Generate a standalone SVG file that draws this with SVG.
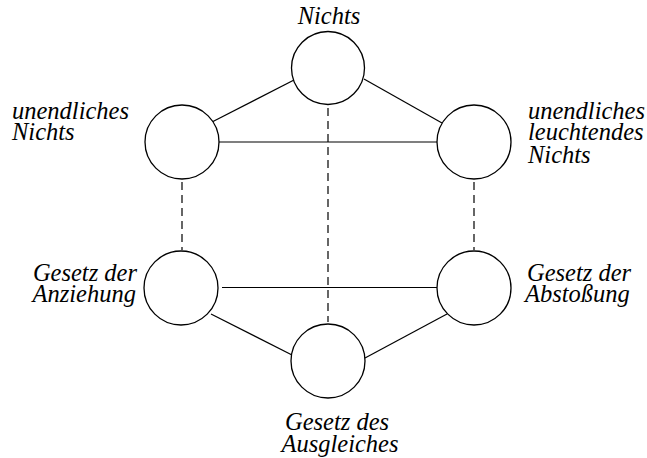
<svg xmlns="http://www.w3.org/2000/svg" width="647" height="458" viewBox="0 0 647 458">
<style>
  .node { fill: #fff; stroke: #000; stroke-width: 1.3; }
  .edge { stroke: #000; stroke-width: 1.2; fill: none; }
  .dash { stroke: #000; stroke-width: 1.2; fill: none; stroke-dasharray: 8 5; }
  .lbl { font-family: "Liberation Serif", "Times New Roman", serif; font-style: italic; font-size: 24.5px; fill: #000; }
</style>
<rect width="647" height="458" fill="#fff"/>
<g id="connectors">
  <line class="edge" x1="212" y1="122" x2="294" y2="80"/>
  <line class="edge" x1="364" y1="79" x2="442" y2="123"/>
  <line class="edge" x1="219" y1="142" x2="437" y2="142"/>
  <line class="edge" x1="222" y1="287.5" x2="437" y2="287.5"/>
  <line class="edge" x1="211" y1="314" x2="292" y2="355"/>
  <line class="edge" x1="365" y1="358" x2="447" y2="314"/>
  <line class="dash" x1="182" y1="182" x2="182" y2="250"/>
  <line class="dash" x1="328" y1="108" x2="328" y2="322"/>
  <line class="dash" x1="474" y1="182" x2="474" y2="250"/>
</g>
<g id="nichts">
  <circle class="node" cx="328" cy="68" r="36.5"/>
  <text class="lbl" x="329" y="24" text-anchor="middle">Nichts</text>
</g>
<g id="unendliches-nichts">
  <circle class="node" cx="182" cy="142" r="37"/>
  <text class="lbl"><tspan x="12" y="119">unendliches</tspan><tspan x="12" y="140">Nichts</tspan></text>
</g>
<g id="unendliches-leuchtendes-nichts">
  <circle class="node" cx="474" cy="142" r="37"/>
  <text class="lbl"><tspan x="528" y="119">unendliches</tspan><tspan x="528" y="140">leuchtendes</tspan><tspan x="528" y="163">Nichts</tspan></text>
</g>
<g id="gesetz-anziehung">
  <circle class="node" cx="181" cy="288" r="37"/>
  <text class="lbl" text-anchor="end"><tspan x="137" y="281">Gesetz der</tspan><tspan x="136" y="302">Anziehung</tspan></text>
</g>
<g id="gesetz-abstossung">
  <circle class="node" cx="474" cy="288" r="37"/>
  <text class="lbl"><tspan x="527" y="281">Gesetz der</tspan><tspan x="525" y="302">Abstoßung</tspan></text>
</g>
<g id="gesetz-ausgleich">
  <circle class="node" cx="328" cy="361" r="37"/>
  <text class="lbl" text-anchor="middle"><tspan x="337" y="430">Gesetz des</tspan><tspan x="340" y="452">Ausgleiches</tspan></text>
</g>
</svg>
